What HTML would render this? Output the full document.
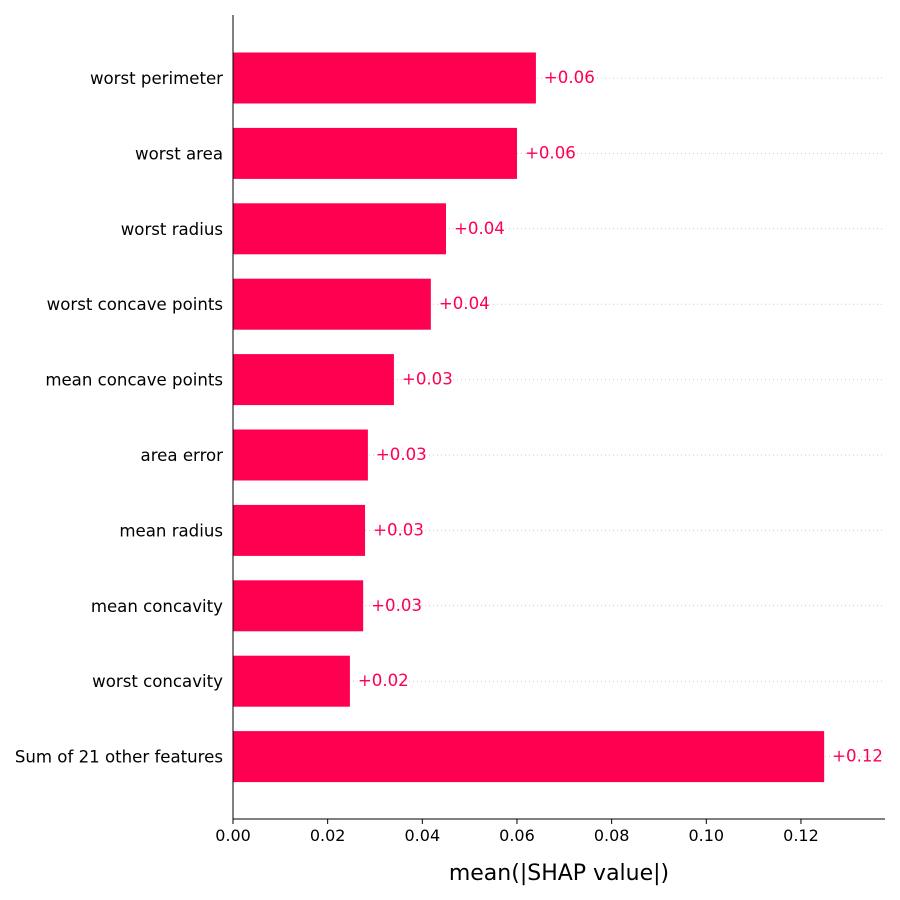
<!DOCTYPE html>
<html><head><meta charset="utf-8"><style>
html,body{margin:0;padding:0;background:#fff;}
svg{display:block;font-family:"DejaVu Sans","Liberation Sans",sans-serif;}
</style></head><body>
<svg id="chart" width="900" height="900" viewBox="0 0 900 900"></svg>
<script>
const features = ["worst perimeter","worst area","worst radius","worst concave points","mean concave points","area error","mean radius","mean concavity","worst concavity","Sum of 21 other features"];
const values = [0.0640,0.0600,0.0450,0.0418,0.0340,0.0285,0.0279,0.0275,0.0247,0.1249];
const valueLabels = ["+0.06","+0.06","+0.04","+0.04","+0.03","+0.03","+0.03","+0.03","+0.02","+0.12"];
const xTicks = [0,0.02,0.04,0.06,0.08,0.10,0.12];
const xTickLabels = ["0.00","0.02","0.04","0.06","0.08","0.10","0.12"];

const NS="http://www.w3.org/2000/svg";
const svg=document.getElementById('chart');
const L=233,R=885,T=15,B=819;
const x=v=>L+v*4733;
const y0=78,step=75.4;
const y=i=>y0+i*step;
function mk(tag,attrs,parent){const e=document.createElementNS(NS,tag);for(const k in attrs)e.setAttribute(k,attrs[k]);(parent||svg).appendChild(e);return e;}

features.forEach((f,i)=>{
  const g=mk('line',{x1:L,x2:R,y1:y(i),y2:y(i),stroke:'#ccc','stroke-width':1,'stroke-dasharray':'1,3'});
  
  
});
features.forEach((f,i)=>{
  const b=mk('rect',{x:L,y:y(i)-25.5,width:x(values[i])-L,height:51,fill:'#ff0051'});
  
  
  const vl=mk('text',{x:x(values[i])+8,y:y(i)+5,fill:'#ff0051','font-size':16.6});
  vl.textContent=valueLabels[i];
  
  
  const fl=mk('text',{x:L-10,y:y(i)+6,fill:'#000','font-size':16.6,'text-anchor':'end'});
  fl.textContent=f;
  
  
});
const ya=mk('line',{x1:L,x2:L,y1:T,y2:B,stroke:'#000','stroke-width':1});


const xa=mk('line',{x1:L,x2:R,y1:B,y2:B,stroke:'#000','stroke-width':1});


xTicks.forEach((t,i)=>{
  const tk=mk('line',{x1:x(t),x2:x(t),y1:B,y2:B+5,stroke:'#000','stroke-width':1});
  
  
  const tl=mk('text',{x:x(t),y:B+22,'font-size':16,'text-anchor':'middle',fill:'#000'});
  tl.textContent=xTickLabels[i];
  
  
});
const xt=mk('text',{x:559,y:880,'font-size':22,'text-anchor':'middle',fill:'#000'});
xt.textContent='mean(|SHAP value|)';


</script>
</body></html>
